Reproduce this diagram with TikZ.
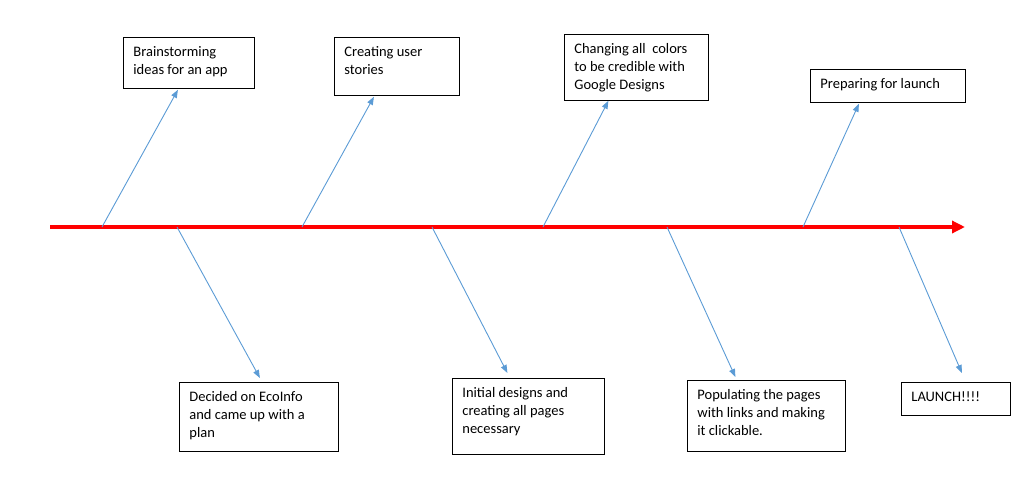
\documentclass[tikz,border=0pt]{standalone}
\usepackage{fontspec}
\setmainfont{Carlito}
\usetikzlibrary{arrows.meta}
\definecolor{bonecol}{RGB}{91,155,213}
\definecolor{spinecol}{RGB}{255,0,0}
\newcommand{\boxtext}[3]{\parbox[t][#2][t]{#1}{\raggedright #3}}

\begin{document}
\begin{tikzpicture}[x=1pt, y=-1pt,
    stepbox/.style={rectangle, draw=black, line width=0.8pt, anchor=north west, inner xsep=10pt, inner ysep=9pt, font=\fontsize{14.5}{18}\selectfont},
    spine/.style={-{Triangle[length=13pt, width=12pt]}, line width=3.5pt, draw=spinecol},
    bone/.style={-{Triangle[length=8pt, width=6pt]}, line width=0.9pt, draw=bonecol}]

    \useasboundingbox (0,0) rectangle (1028,495);

    % boxes above the spine
    \node[stepbox] (brain) at (123,37) {\boxtext{111pt}{33pt}{Brainstorming\\ ideas for an app}};
    \node[stepbox] (stories) at (334,37) {\boxtext{105pt}{40pt}{Creating user\\ stories}};
    \node[stepbox] (colors) at (564,34) {\boxtext{124pt}{48pt}{Changing all\ \ colors\\ to be credible with\\ Google Designs}};
    \node[stepbox] (prep) at (810,69) {\boxtext{135pt}{15pt}{Preparing for launch}};

    % boxes below the spine
    \node[stepbox] (decided) at (179,382) {\boxtext{139pt}{51pt}{Decided on EcoInfo\\ and came up with a\\ plan}};
    \node[stepbox] (designs) at (452,378) {\boxtext{132pt}{58pt}{Initial designs and\\ creating all pages\\ necessary}};
    \node[stepbox] (populate) at (687,380) {\boxtext{138pt}{53pt}{Populating the pages\\ with links and making\\ it clickable.}};
    \node[stepbox] (launch) at (901,382) {\boxtext{89pt}{15pt}{LAUNCH!!!!}};

    % spine
    \coordinate (tail) at (50,227);
    \coordinate (head) at (965,227);
    \draw[spine] (tail) -- (head);

    \coordinate (s1) at (102,227);
    \coordinate (s2) at (302,227);
    \coordinate (s3) at (543,227);
    \coordinate (s4) at (803,227);
    \coordinate (s5) at (177,227);
    \coordinate (s6) at (432,227);
    \coordinate (s7) at (667,227);
    \coordinate (s8) at (899,227);

    % bones
    \draw[bone] (s1) -- ([xshift=-11pt, yshift=-1pt]brain.south);
    \draw[bone] (s2) -- ([xshift=-23pt, yshift=-1pt]stories.south);
    \draw[bone] (s3) -- ([xshift=-28pt]colors.south);
    \draw[bone] (s4) -- ([xshift=-29pt, yshift=-1pt]prep.south);
    \draw[bone] (s5) -- ([xshift=1pt, yshift=4pt]decided.north);
    \draw[bone] (s6) -- ([xshift=-21pt, yshift=5pt]designs.north);
    \draw[bone] (s7) -- ([xshift=-31pt, yshift=3pt]populate.north);
    \draw[bone] (s8) -- ([xshift=6pt, yshift=9pt]launch.north);
\end{tikzpicture}
\end{document}
